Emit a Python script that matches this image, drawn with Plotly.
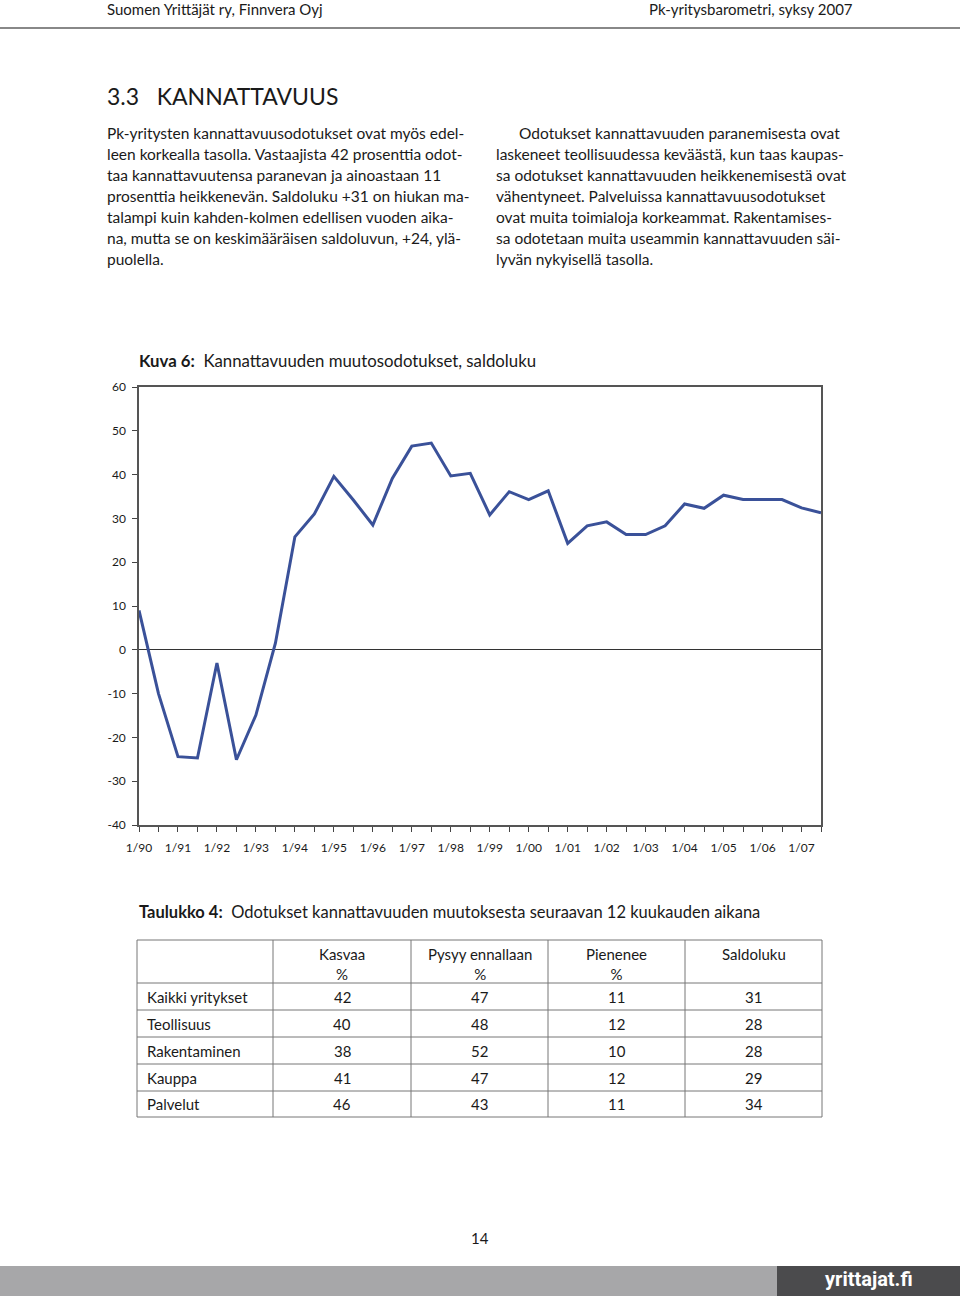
import plotly.graph_objects as go

# ---------------- data ----------------
periods = []
for yr in range(90, 108):
    for h in (1, 2):
        periods.append(f"{h}/{yr % 100:02d}")
saldoluku = [9, -10, -24.4, -24.7, -3, -25.1, -14.9, 1.5,
             25.8, 31, 39.6, 34.2, 28.5, 39.1, 46.5, 47.2,
             39.7, 40.3, 30.8, 36.1, 34.3, 36.3, 24.3, 28.3,
             29.2, 26.3, 26.3, 28.3, 33.3, 32.3, 35.3, 34.3,
             34.3, 34.3, 32.4, 31.3]
y_ticks = [60, 50, 40, 30, 20, 10, 0, -10, -20, -30, -40]
y_ticktext = [str(v) for v in y_ticks]

table_cols = ["Kasvaa<br>%", "Pysyy ennallaan<br>%", "Pienenee<br>%", "Saldoluku"]
table_rows = ["Kaikki yritykset", "Teollisuus", "Rakentaminen", "Kauppa", "Palvelut"]
kasvaa = [42, 40, 38, 41, 46]
pysyy = [47, 48, 52, 47, 43]
pienenee = [11, 12, 10, 12, 11]
saldo = [31, 28, 28, 29, 34]

left_para = [
    "Pk-yritysten kannattavuusodotukset ovat myös edel-",
    "leen korkealla tasolla. Vastaajista 42 prosenttia odot-",
    "taa kannattavuutensa paranevan ja ainoastaan 11",
    "prosenttia heikkenevän. Saldoluku +31 on hiukan ma-",
    "talampi kuin kahden-kolmen edellisen vuoden aika-",
    "na, mutta se on keskimääräisen saldoluvun, +24, ylä-",
    "puolella.",
]
right_para = [
    "Odotukset kannattavuuden paranemisesta ovat",
    "laskeneet teollisuudessa keväästä, kun taas kaupas-",
    "sa odotukset kannattavuuden heikkenemisestä ovat",
    "vähentyneet. Palveluissa kannattavuusodotukset",
    "ovat muita toimialoja korkeammat. Rakentamises-",
    "sa odotetaan muita useammin kannattavuuden säi-",
    "lyvän nykyisellä tasolla.",
]

# ---------------- page geometry ----------------
W, H = 960, 1296
L, R, T, B = 139, 821, 387, 825
FONT = "Lato, 'Noto Sans', sans-serif"
TXT = "#1a1a1a"


def px(x):
    return (x - L) / (R - L)


def py(y):
    return (B - y) / (B - T)


x_idx = list(range(len(periods)))
fig = go.Figure()
fig.add_trace(go.Scatter(
    x=x_idx, y=saldoluku, mode="lines",
    line=dict(color="#3a5199", width=3), hoverinfo="skip", showlegend=False))

fig.update_layout(
    width=W, height=H,
    margin=dict(l=L, r=W - R, t=T, b=H - B, pad=0),
    paper_bgcolor="white", plot_bgcolor="white",
    font=dict(family=FONT, color=TXT),
    showlegend=False,
    xaxis=dict(
        range=[0, len(periods) - 1], showgrid=False, zeroline=False,
        tickmode="array", tickvals=x_idx[::2], ticktext=periods[::2],
        ticks="outside", ticklen=5, tickcolor="#444", tickwidth=1,
        minor=dict(tickmode="array", tickvals=x_idx[1::2], ticks="outside",
                   ticklen=5, tickcolor="#444", tickwidth=1),
        showline=True, linecolor="#555", linewidth=1.5, mirror=True,
        tickfont=dict(size=12, color=TXT), ticklabelstandoff=6,
    ),
    yaxis=dict(
        range=[-40, 60], showgrid=False,
        zeroline=True, zerolinecolor="#333", zerolinewidth=1,
        tickmode="array", tickvals=y_ticks, ticktext=y_ticktext,
        ticks="outside", ticklen=5, tickcolor="#444", tickwidth=1,
        showline=True, linecolor="#555", linewidth=1.5, mirror=True,
        tickfont=dict(size=12, color=TXT), ticklabelstandoff=4,
    ),
)

ann = []
shapes = []


def text(x, y, s, size=15, xanchor="left", color=TXT, family=FONT, yanchor="middle"):
    ann.append(dict(x=px(x), y=py(y), xref="paper", yref="paper", text=s,
                    showarrow=False, xanchor=xanchor, yanchor=yanchor,
                    font=dict(size=size, color=color, family=family)))


def line(x0, y0, x1, y1, color="#777", width=1):
    shapes.append(dict(type="line", xref="paper", yref="paper",
                       x0=px(x0), y0=py(y0), x1=px(x1), y1=py(y1),
                       line=dict(color=color, width=width)))


def rect(x0, y0, x1, y1, color):
    shapes.append(dict(type="rect", xref="paper", yref="paper",
                       x0=px(x0), y0=py(y0), x1=px(x1), y1=py(y1),
                       line=dict(width=0), fillcolor=color, layer="below"))


# header
text(105, 9, "Suomen Yrittäjät ry, Finnvera Oyj", size=15)
text(855, 9, "Pk-yritysbarometri, syksy 2007", size=15, xanchor="right")
line(0, 28, W, 28, color="#888", width=2)

# section heading
text(105, 96, "3.3&nbsp;&nbsp;&nbsp;KANNATTAVUUS", size=23)

# paragraphs
for i, s in enumerate(left_para):
    text(105, 133 + 21 * i, s, size=15.5)
for i, s in enumerate(right_para):
    text(517 if i == 0 else 494, 133 + 21 * i, s, size=15.5)

# chart title
text(137, 360, "<b>Kuva 6:</b>&nbsp;&nbsp;Kannattavuuden muutosodotukset, saldoluku", size=16.8)

# table title
text(137, 912, "<b>Taulukko 4:</b>&nbsp;&nbsp;Odotukset kannattavuuden muutoksesta seuraavan 12 kuukauden aikana", size=16.5)

# table grid
col_x = [137, 273, 411, 548, 685, 822]
row_y = [940, 983, 1010, 1037, 1064, 1091, 1117]
for xx in col_x:
    line(xx, row_y[0], xx, row_y[-1])
for yy in row_y:
    line(col_x[0], yy, col_x[-1], yy)

for j, h in enumerate(table_cols):
    cx = (col_x[j + 1] + col_x[j + 2]) / 2
    ann.append(dict(x=px(cx), y=py(943), xref="paper", yref="paper", text=h,
                    showarrow=False, xanchor="center", yanchor="top", align="center",
                    font=dict(size=15, color=TXT, family=FONT)))

values = [kasvaa, pysyy, pienenee, saldo]
for i, rname in enumerate(table_rows):
    cy = (row_y[i + 1] + row_y[i + 2]) / 2
    text(145, cy, rname, size=15)
    for j, col in enumerate(values):
        cx = (col_x[j + 1] + col_x[j + 2]) / 2
        text(cx, cy, str(col[i]), size=15, xanchor="center")

# page number
text(480, 1238, "14", size=15, xanchor="center")

# footer bar
rect(0, 1266, 777, 1296, "#a7a7a9")
rect(777, 1266, 960, 1296, "#4b4b4d")
text(869, 1279, "<b>yrittajat.fi</b>", size=20, xanchor="center", color="white",
     family="'Liberation Sans Narrow', 'Roboto', sans-serif")

fig.update_layout(annotations=ann, shapes=shapes)
fig.write_html("out.html", config={"displayModeBar": False},
               post_script="document.body.style.margin='0';document.body.style.overflow='hidden';")
